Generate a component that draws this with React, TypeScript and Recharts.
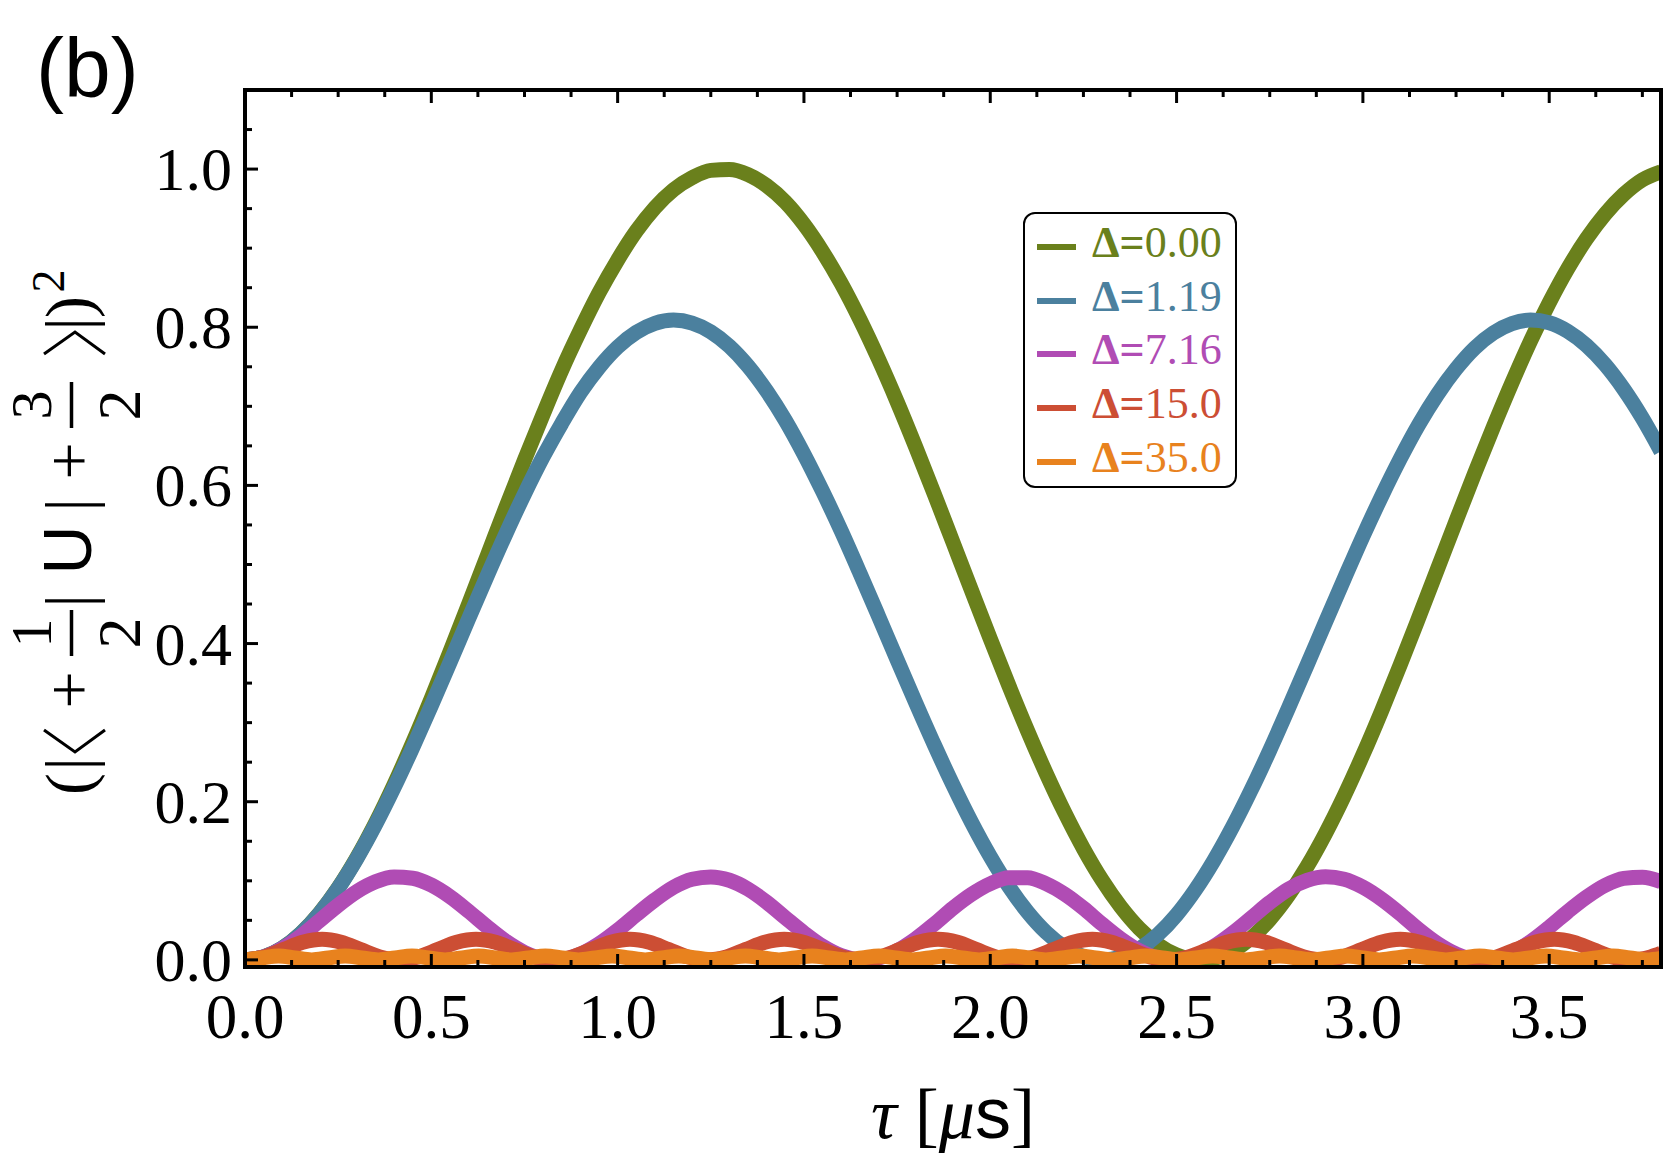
import React from "react";
import { LineChart, Line, XAxis, YAxis } from "recharts";

// sampling grid (µs) for the three slow curves
const TIME = [
  0, 0.05, 0.1, 0.15, 0.2, 0.25, 0.3, 0.35, 0.4, 0.45,
  0.5, 0.55, 0.6, 0.65, 0.7, 0.75, 0.8, 0.85, 0.9, 0.95,
  1.0, 1.05, 1.1, 1.15, 1.2, 1.25, 1.3, 1.35, 1.4, 1.45,
  1.5, 1.55, 1.6, 1.65, 1.7, 1.75, 1.8, 1.85, 1.9, 1.95,
  2.0, 2.05, 2.1, 2.15, 2.2, 2.25, 2.3, 2.35, 2.4, 2.45,
  2.5, 2.55, 2.6, 2.65, 2.7, 2.75, 2.8, 2.85, 2.9, 2.95,
  3.0, 3.05, 3.1, 3.15, 3.2, 3.25, 3.3, 3.35, 3.4, 3.45,
  3.5, 3.55, 3.6, 3.65, 3.7, 3.75, 3.8,
];

// Δ = 0.00
const P_D000 = [
  0, 0.0037, 0.0149, 0.0334, 0.0589, 0.0909, 0.1291, 0.1729, 0.2216, 0.2746,
  0.3308, 0.3896, 0.4499, 0.5109, 0.5721, 0.632, 0.6899, 0.7457, 0.7964, 0.8435,
  0.885, 0.9215, 0.9512, 0.9739, 0.9892, 0.9984, 0.9995, 0.9931, 0.9791, 0.9584,
  0.9302, 0.8956, 0.8554, 0.8099, 0.7598, 0.7058, 0.6484, 0.5889, 0.5279, 0.4668,
  0.4061, 0.3468, 0.2898, 0.2359, 0.186, 0.1408, 0.101, 0.0672, 0.0398, 0.0194,
  0.0061, 0.0003, 0.002, 0.0111, 0.0275, 0.0511, 0.0814, 0.1179, 0.1602, 0.2076,
  0.2593, 0.3147, 0.3729, 0.433, 0.4939, 0.555, 0.6153, 0.6737, 0.7298, 0.7828,
  0.8309, 0.8742, 0.9118, 0.9431, 0.968, 0.9864, 0.9966,
];

// Δ = 1.19
const P_D119 = [
  0, 0.0038, 0.015, 0.0334, 0.0587, 0.0905, 0.1281, 0.1708, 0.2179, 0.2685,
  0.3215, 0.3761, 0.4312, 0.4858, 0.5388, 0.5892, 0.6361, 0.6784, 0.7173, 0.7492,
  0.7749, 0.7935, 0.805, 0.809, 0.8053, 0.7942, 0.7759, 0.7508, 0.7194, 0.6823,
  0.6395, 0.5925, 0.5425, 0.4893, 0.4347, 0.3795, 0.325, 0.2718, 0.2211, 0.1737,
  0.1307, 0.0927, 0.0606, 0.0348, 0.0159, 0.0043, 0.0, 0.0033, 0.014, 0.032,
  0.0569, 0.0883, 0.1255, 0.1679, 0.2147, 0.265, 0.3181, 0.3726, 0.4275, 0.4819,
  0.5354, 0.586, 0.6335, 0.677, 0.715, 0.7473, 0.7736, 0.7927, 0.8046, 0.809,
  0.8057, 0.7948, 0.777, 0.7526, 0.7217, 0.685, 0.6431,
];

// Δ = 7.16
const P_D716 = [
  0, 0.0037, 0.0143, 0.0303, 0.0495, 0.0691, 0.0863, 0.0987, 0.1048, 0.1032,
  0.0946, 0.08, 0.0615, 0.0417, 0.0235, 0.0094, 0.0014, 0.0006, 0.0072, 0.0203,
  0.0376, 0.0571, 0.0759, 0.0919, 0.102, 0.1049, 0.1007, 0.0895, 0.0729, 0.0533,
  0.0342, 0.0173, 0.0054, 0.0002, 0.0023, 0.0116, 0.0267, 0.0454, 0.0655, 0.083,
  0.0963, 0.104, 0.104, 0.0963, 0.083, 0.0654, 0.0453, 0.0266, 0.0116, 0.0025,
  0.0001, 0.0052, 0.017, 0.0337, 0.0529, 0.0725, 0.0893, 0.1004, 0.105, 0.102,
  0.092, 0.0769, 0.0584, 0.0382, 0.0206, 0.0074, 0.0007, 0.0013, 0.0092, 0.0231,
  0.0413, 0.0611, 0.0793, 0.0942, 0.1031, 0.1046, 0.0989,
];

// Δ = 15.0, sampled finer since it oscillates faster
const TIME_D150 = [
  0, 0.052, 0.103, 0.155, 0.207, 0.258, 0.31, 0.362, 0.413, 0.465,
  0.517, 0.568, 0.62, 0.672, 0.723, 0.775, 0.827, 0.878, 0.93, 0.982,
  1.033, 1.085, 1.137, 1.188, 1.24, 1.292, 1.343, 1.395, 1.447, 1.498,
  1.55, 1.602, 1.653, 1.705, 1.757, 1.808, 1.86, 1.912, 1.963, 2.015,
  2.067, 2.118, 2.17, 2.222, 2.274, 2.325, 2.377, 2.429, 2.48, 2.532,
  2.584, 2.635, 2.687, 2.739, 2.79, 2.842, 2.894, 2.945, 2.997, 3.049,
  3.1, 3.152, 3.204, 3.255, 3.307, 3.359, 3.41, 3.462, 3.514, 3.565,
  3.617, 3.669, 3.72, 3.772, 3.8,
];
const P_D150 = [
  0, 0.0038, 0.013, 0.0222, 0.026, 0.0222, 0.013, 0.0038, 0, 0.0038,
  0.013, 0.0222, 0.026, 0.0222, 0.013, 0.0038, 0, 0.0038, 0.013, 0.0222,
  0.026, 0.0222, 0.013, 0.0038, 0, 0.0038, 0.013, 0.0222, 0.026, 0.0222,
  0.013, 0.0038, 0, 0.0038, 0.013, 0.0222, 0.026, 0.0222, 0.013, 0.0038,
  0, 0.0038, 0.013, 0.0222, 0.026, 0.0222, 0.013, 0.0038, 0, 0.0038,
  0.013, 0.0222, 0.026, 0.0222, 0.013, 0.0038, 0, 0.0038, 0.013, 0.0222,
  0.026, 0.0222, 0.013, 0.0038, 0, 0.0038, 0.013, 0.0222, 0.026, 0.0222,
  0.013, 0.0038, 0, 0.0038, 0.0084,
];

// Δ = 35.0
const TIME_D350 = [
  0, 0.045, 0.09, 0.134, 0.179, 0.224, 0.269, 0.313, 0.358, 0.403,
  0.448, 0.492, 0.537, 0.582, 0.627, 0.672, 0.716, 0.761, 0.806, 0.851,
  0.895, 0.94, 0.985, 1.03, 1.074, 1.119, 1.164, 1.209, 1.254, 1.298,
  1.343, 1.388, 1.433, 1.477, 1.522, 1.567, 1.612, 1.656, 1.701, 1.746,
  1.791, 1.836, 1.88, 1.925, 1.97, 2.015, 2.059, 2.104, 2.149, 2.194,
  2.239, 2.283, 2.328, 2.373, 2.418, 2.462, 2.507, 2.552, 2.597, 2.641,
  2.686, 2.731, 2.776, 2.821, 2.865, 2.91, 2.955, 3.0, 3.044, 3.089,
  3.134, 3.179, 3.223, 3.268, 3.313, 3.358, 3.403, 3.447, 3.492, 3.537,
  3.582, 3.626, 3.671, 3.716, 3.761, 3.8,
];
const P_D350 = [
  0, 0.0025, 0.0049, 0.0025, 0, 0.0025, 0.0049, 0.0025, 0, 0.0025,
  0.0049, 0.0025, 0, 0.0025, 0.0049, 0.0025, 0, 0.0025, 0.0049, 0.0025,
  0, 0.0025, 0.0049, 0.0025, 0, 0.0025, 0.0049, 0.0025, 0, 0.0025,
  0.0049, 0.0025, 0, 0.0025, 0.0049, 0.0025, 0, 0.0025, 0.0049, 0.0025,
  0, 0.0025, 0.0049, 0.0025, 0, 0.0025, 0.0049, 0.0025, 0, 0.0025,
  0.0049, 0.0025, 0, 0.0025, 0.0049, 0.0025, 0, 0.0025, 0.0049, 0.0025,
  0, 0.0025, 0.0049, 0.0025, 0, 0.0025, 0.0049, 0.0025, 0, 0.0025,
  0.0049, 0.0025, 0, 0.0025, 0.0049, 0.0025, 0, 0.0025, 0.0049, 0.0025,
  0, 0.0025, 0.0049, 0.0025, 0, 0.002,
];

const X_TICKS = [
  0, 0.125, 0.25, 0.375, 0.5, 0.625, 0.75, 0.875, 1, 1.125, 1.25, 1.375,
  1.5, 1.625, 1.75, 1.875, 2, 2.125, 2.25, 2.375, 2.5, 2.625, 2.75, 2.875,
  3, 3.125, 3.25, 3.375, 3.5, 3.625, 3.75,
];
const Y_TICKS = [
  0, 0.05, 0.1, 0.15, 0.2, 0.25, 0.3, 0.35, 0.4, 0.45, 0.5, 0.55,
  0.6, 0.65, 0.7, 0.75, 0.8, 0.85, 0.9, 0.95, 1.0, 1.05,
];
const X_DOMAIN = [0, 3.8];
const Y_DOMAIN = [-0.009, 1.1];

const rows = (ts: number[], vs: number[]) => ts.map((t, i) => ({ t, p: vs[i] }));

// the last series is tied to the top/right axes so the full frame gets drawn
const SERIES = [
  { delta: "0.00", color: "#6a801c", data: rows(TIME, P_D000), mirror: false },
  { delta: "1.19", color: "#4b809e", data: rows(TIME, P_D119), mirror: false },
  { delta: "7.16", color: "#b04cb4", data: rows(TIME, P_D716), mirror: false },
  { delta: "15.0", color: "#cc4e34", data: rows(TIME_D150, P_D150), mirror: false },
  { delta: "35.0", color: "#e8821e", data: rows(TIME_D350, P_D350), mirror: true },
];

const SERIF = '"Liberation Serif", "Times New Roman", serif';
const SANS = '"Liberation Sans", Arial, sans-serif';
const FRAME = { stroke: "#000", strokeWidth: 4, strokeLinecap: "square" as const };

const isMultiple = (v: number, step: number) =>
  Math.abs(v / step - Math.round(v / step)) < 1e-6;

function BottomTick({ x, y, payload }: any) {
  const v = payload.value as number;
  const major = isMultiple(v, 0.5);
  return (
    <g>
      <line x1={x} x2={x} y1={y} y2={y - (major ? 13 : 7)} stroke="#000" strokeWidth={3} />
      {major && (
        <text x={x} y={y + 71} textAnchor="middle" fontFamily={SERIF} fontSize={63} fill="#000">
          {v.toFixed(1)}
        </text>
      )}
    </g>
  );
}

function TopTick({ x, y, payload }: any) {
  const major = isMultiple(payload.value, 0.5);
  return <line x1={x} x2={x} y1={y} y2={y + (major ? 13 : 7)} stroke="#000" strokeWidth={3} />;
}

function LeftTick({ x, y, payload }: any) {
  const v = payload.value as number;
  const major = isMultiple(v, 0.2);
  return (
    <g>
      <line x1={x} x2={x + (major ? 13 : 7)} y1={y} y2={y} stroke="#000" strokeWidth={3} />
      {major && (
        <text x={x - 13} y={y + 21} textAnchor="end" fontFamily={SERIF} fontSize={62} fill="#000">
          {v.toFixed(1)}
        </text>
      )}
    </g>
  );
}

// rotated y title: (|<+1/2|U|+3/2>|)^2, pieces placed along the reading direction
function YTitle() {
  const glyph = (ch: string, at: number, family = SERIF, size = 66) => (
    <text x={-at} y={0} textAnchor="middle" fontFamily={family} fontSize={size} fill="#000">
      {ch}
    </text>
  );
  const frac = (num: string, at: number) => (
    <g>
      <text x={-at} y={-40} textAnchor="middle" fontFamily={SERIF} fontSize={58} fill="#000">{num}</text>
      <line x1={-at - 23} x2={-at + 23} y1={-19.5} y2={-19.5} stroke="#000" strokeWidth={3.5} />
      <text x={-at} y={49} textAnchor="middle" fontFamily={SERIF} fontSize={62} fill="#000">2</text>
    </g>
  );
  const angle = (at: number, open: boolean) => {
    const tip = open ? -at - 11 : -at + 11;
    const back = open ? -at + 11 : -at - 11;
    return (
      <polyline
        points={`${back},-47 ${tip},-16 ${back},14`}
        fill="none"
        stroke="#000"
        strokeWidth={3}
      />
    );
  };
  return (
    <g transform="translate(91,0) rotate(-90)">
      {glyph("(", 784)}
      {glyph("|", 764)}
      {angle(741, true)}
      {glyph("+", 690)}
      {frac("1", 633)}
      {glyph("|", 601)}
      {glyph("U", 550, SANS, 68)}
      {glyph("|", 505)}
      {glyph("+", 461)}
      {frac("3", 405)}
      {angle(343, false)}
      {glyph("|", 324)}
      {glyph(")", 307)}
      <text x={-281} y={-27} textAnchor="middle" fontFamily={SERIF} fontSize={46} fill="#000">2</text>
    </g>
  );
}

export default function App() {
  return (
    <div style={{ position: "absolute", left: 0, top: 0, width: 1667, height: 1161, background: "#fff" }}>
      <LineChart width={1667} height={1161} margin={{ top: 89, right: 5, bottom: 0, left: 0 }}>
        {SERIES.map((s) => (
          <Line
            key={s.delta}
            data={s.data}
            dataKey="p"
            xAxisId={s.mirror ? "top" : "bottom"}
            yAxisId={s.mirror ? "right" : "left"}
            type="monotone"
            stroke={s.color}
            strokeWidth={15}
            strokeLinejoin="round"
            dot={false}
            activeDot={false}
            isAnimationActive={false}
          />
        ))}
        <XAxis
          xAxisId="bottom"
          dataKey="t"
          type="number"
          domain={X_DOMAIN}
          allowDataOverflow
          height={194}
          ticks={X_TICKS}
          interval={0}
          tickLine={false}
          tickSize={0}
          tickMargin={0}
          tick={<BottomTick />}
          axisLine={FRAME}
        />
        <XAxis
          xAxisId="top"
          dataKey="t"
          orientation="top"
          type="number"
          domain={X_DOMAIN}
          allowDataOverflow
          height={1}
          ticks={X_TICKS}
          interval={0}
          tickLine={false}
          tickSize={0}
          tickMargin={0}
          tick={<TopTick />}
          axisLine={FRAME}
        />
        <YAxis
          yAxisId="left"
          type="number"
          domain={Y_DOMAIN}
          allowDataOverflow
          width={245}
          ticks={Y_TICKS}
          interval={0}
          tickLine={false}
          tickSize={0}
          tickMargin={0}
          tick={<LeftTick />}
          axisLine={FRAME}
        />
        <YAxis
          yAxisId="right"
          orientation="right"
          type="number"
          domain={Y_DOMAIN}
          allowDataOverflow
          width={1}
          tick={false}
          tickLine={false}
          axisLine={FRAME}
        />
      </LineChart>

      <svg width={1667} height={1161} style={{ position: "absolute", left: 0, top: 0, pointerEvents: "none" }}>
        <text x={36} y={97} fontFamily={SANS} fontSize={84} fill="#000">(b)</text>
        <text x={953} y={1138} textAnchor="middle" fontFamily={SERIF} fontSize={72} fill="#000">
          <tspan fontStyle="italic">τ</tspan>
          <tspan>{" ["}</tspan>
          <tspan fontStyle="italic">μ</tspan>
          <tspan fontFamily={SANS}>s</tspan>
          <tspan>]</tspan>
        </text>
        <YTitle />
      </svg>

      <div
        style={{
          position: "absolute",
          left: 1023,
          top: 212,
          width: 214,
          height: 276,
          boxSizing: "border-box",
          border: "2px solid #000",
          borderRadius: 12,
          background: "#fff",
          paddingTop: 6,
        }}
      >
        {SERIES.map((s) => (
          <div key={s.delta} style={{ display: "flex", alignItems: "center", height: 53.7 }}>
            <span style={{ marginLeft: 12, width: 39, height: 6, background: s.color, flex: "none" }} />
            <span
              style={{
                marginLeft: 16,
                position: "relative",
                top: -4,
                color: s.color,
                fontFamily: SERIF,
                fontSize: 44,
                lineHeight: 1,
                whiteSpace: "nowrap",
              }}
            >
              <b>Δ=</b>
              {s.delta}
            </span>
          </div>
        ))}
      </div>
    </div>
  );
}
